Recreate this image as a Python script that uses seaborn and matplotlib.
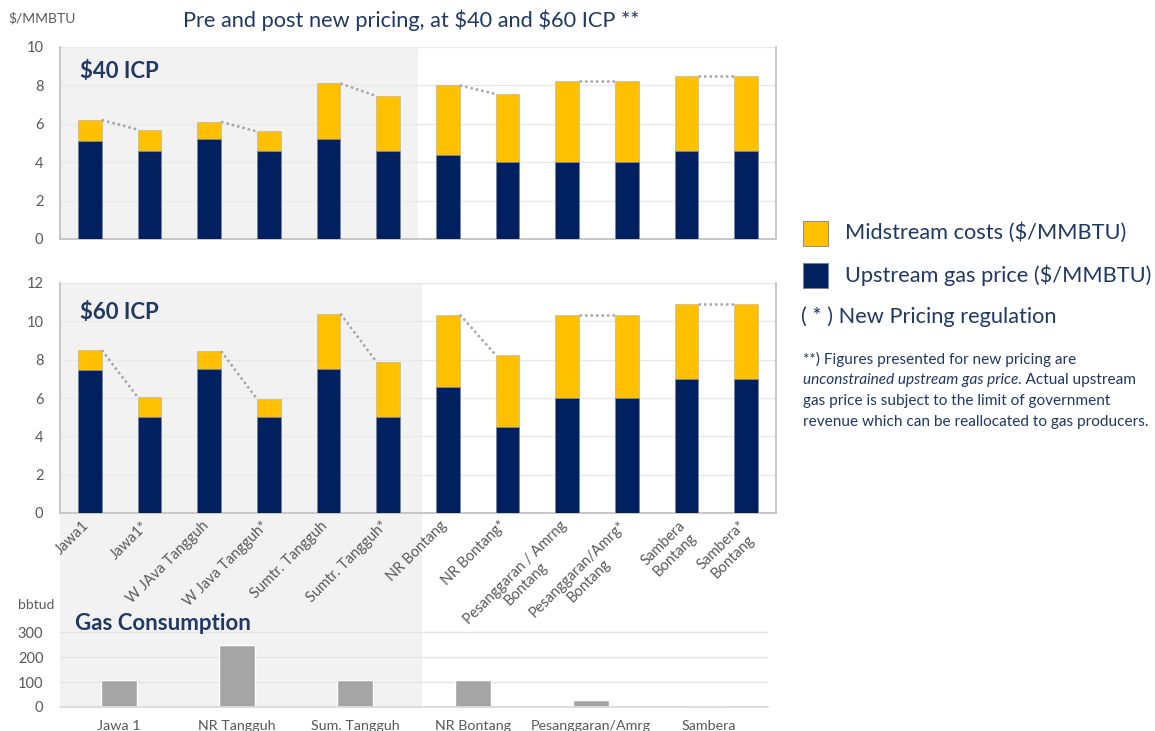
import matplotlib
matplotlib.use("Agg")
import matplotlib.pyplot as plt
import matplotlib.transforms as mtransforms
import seaborn as sns
import pandas as pd
from matplotlib.patches import Rectangle

# --- data ---
projects = ['Jawa1', 'Jawa1*', 'W JAva Tangguh', 'W Java Tangguh*',
            'Sumtr. Tangguh', 'Sumtr. Tangguh*', 'NR Bontang', 'NR Bontang*',
            'Pesanggaran / Amrng\nBontang', 'Pesanggaran/Amrg*\nBontang',
            'Sambera\nBontang', 'Sambera*\nBontang']
upstream_40 = [5.1, 4.6, 5.2, 4.6, 5.2, 4.6, 4.4, 4.0, 4.0, 4.0, 4.6, 4.6]
midstream_40 = [1.1, 1.1, 0.9, 1.0, 2.9, 2.85, 3.6, 3.55, 4.25, 4.25, 3.9, 3.9]
upstream_60 = [7.45, 5.0, 7.5, 5.0, 7.5, 5.0, 6.6, 4.5, 6.0, 6.0, 7.0, 7.0]
midstream_60 = [1.05, 1.05, 0.95, 0.95, 2.9, 2.9, 3.75, 3.75, 4.35, 4.35, 3.9, 3.9]

fields = ['Jawa 1', 'NR Tangguh', 'Sum. Tangguh', 'NR Bontang', 'Pesanggaran/Amrg', 'Sambera']
consumption = [110, 250, 110, 110, 30, 6]

YELLOW = '#FFC000'
NAVY = '#002060'
TXT = '#1F3864'
GREY_TXT = '#595959'
SHADE = '#F2F2F2'

sns.set_theme(style='white')
plt.rcParams['font.family'] = ['Lato', 'DejaVu Sans']
plt.rcParams['text.parse_math'] = False

W, H = 1155, 731
fig = plt.figure(figsize=(W / 100, H / 100), dpi=100)


def box(left, top, right, bottom):
    return [left / W, 1 - bottom / H, (right - left) / W, (bottom - top) / H]


# shaded block behind middle + bottom chart (spans the tick labels)
fig.patches.append(Rectangle((60 / W, 1 - 707 / H), (422 - 60) / W, (707 - 283) / H,
                             transform=fig.transFigure, facecolor=SHADE,
                             edgecolor='none', zorder=-5))


def price_panel(ax, up, mid, ymax, title, show_labels):
    df = pd.DataFrame({'project': projects, 'upstream': up,
                       'total': [u + m for u, m in zip(up, mid)]})
    ax.set_facecolor('none')
    ax.axvspan(-0.5, 5.5, color=SHADE, zorder=0, lw=0)
    sns.barplot(data=df, x='project', y='total', color=YELLOW, width=0.4,
                saturation=1, ax=ax, edgecolor='#B0B0B0', linewidth=0.4, zorder=2)
    sns.barplot(data=df, x='project', y='upstream', color=NAVY, width=0.4,
                saturation=1, ax=ax, edgecolor='#8090B0', linewidth=0.5, zorder=3)
    # dotted connectors between pre and post pricing bars
    for i in range(0, len(projects), 2):
        ax.plot([i + 0.2, i + 0.8], [df['total'][i], df['total'][i + 1]],
                ls=(0, (1, 1.2)), color='#A6A6A6', lw=1.8, zorder=4)
    ax.set_xlim(-0.5, len(projects) - 0.5)
    ax.set_ylim(0, ymax)
    ax.set_yticks(range(0, ymax + 1, 2))
    ax.yaxis.grid(True, color='#E8E8E8', lw=1)
    ax.set_axisbelow(True)
    ax.set_xlabel('')
    ax.set_ylabel('')
    ax.tick_params(axis='y', labelsize=10.5, colors=GREY_TXT, length=0, pad=12)
    ax.tick_params(axis='x', length=0)
    for s in ['left', 'bottom', 'right']:
        ax.spines[s].set_color('#BFBFBF')
        ax.spines[s].set_linewidth(1.2)
    ax.spines['top'].set_visible(False)
    if show_labels:
        ax.set_xticks(range(len(projects)))
        ax.set_xticklabels(projects, rotation=45, ha='right', rotation_mode='anchor',
                           fontsize=10.5, color=GREY_TXT, multialignment='center')
        ax.tick_params(axis='x', pad=4)
        shift = mtransforms.ScaledTranslation(-8 / 100, 0, fig.dpi_scale_trans)
        for lab in ax.get_xticklabels():
            lab.set_transform(lab.get_transform() + shift)
    else:
        ax.set_xticklabels([])
    ax.text(0.028, 0.87, title, transform=ax.transAxes, fontsize=16,
            fontweight='bold', color=TXT, va='center')


ax1 = fig.add_axes(box(60, 47, 776, 239))
price_panel(ax1, upstream_40, midstream_40, 10, '$40 ICP', False)

ax2 = fig.add_axes(box(60, 283, 776, 513))
price_panel(ax2, upstream_60, midstream_60, 12, '$60 ICP', True)

# gas consumption panel
ax3 = fig.add_axes(box(60, 620, 768, 707))
ax3.set_facecolor('none')
cons = pd.DataFrame({'field': fields, 'bbtud': consumption})
sns.barplot(data=cons, x='field', y='bbtud', color='#A5A5A5', width=0.31,
            saturation=1, ax=ax3, zorder=2)
ax3.set_ylim(0, 350)
ax3.set_yticks([0, 100, 200, 300])
ax3.yaxis.grid(True, color='#E3E3E3', lw=1)
ax3.set_axisbelow(True)
ax3.set_xlabel('')
ax3.set_ylabel('')
for s in ['left', 'top', 'right']:
    ax3.spines[s].set_visible(False)
ax3.spines['bottom'].set_color('#D9D9D9')
ax3.tick_params(axis='y', labelsize=10.5, colors=GREY_TXT, length=0, pad=12)
ax3.tick_params(axis='x', labelsize=10.3, colors=GREY_TXT, length=0, pad=9)
ax3.text(75 / W, 1 - 623 / H, 'Gas Consumption', transform=fig.transFigure,
         fontsize=16, fontweight='bold', color=TXT, va='center')

# titles / units
fig.text(411 / W, 1 - 20 / H, 'Pre and post new pricing, at $40 and $60 ICP **',
         ha='center', va='center', fontsize=15.7, color=TXT)
fig.text(8 / W, 1 - 18 / H, '$/MMBTU', fontsize=10, color=GREY_TXT, va='center')
fig.text(18 / W, 1 - 605 / H, 'bbtud', fontsize=10, color=GREY_TXT, va='center')

# legend block
fig.patches.append(Rectangle((803 / W, 1 - 246 / H), 25 / W, 25 / H, transform=fig.transFigure,
                             facecolor=YELLOW, edgecolor='#7F7F7F', lw=0.6))
fig.patches.append(Rectangle((803 / W, 1 - 288 / H), 25 / W, 25 / H, transform=fig.transFigure,
                             facecolor=NAVY, edgecolor='#7F7F7F', lw=0.6))
fig.text(845 / W, 1 - 233 / H, 'Midstream costs ($/MMBTU)', fontsize=15.7, color=TXT, va='center')
fig.text(845 / W, 1 - 275 / H, 'Upstream gas price ($/MMBTU)', fontsize=15.7, color=TXT, va='center')
fig.text(801 / W, 1 - 317 / H, '( * ) New Pricing regulation', fontsize=15.7, color=TXT, va='center')

NOTE_FS = 11.1
fig.text(803 / W, 1 - 359 / H, '**) Figures presented for new pricing are',
         fontsize=NOTE_FS, color=TXT, va='center')
it = fig.text(803 / W, 1 - 380 / H, 'unconstrained upstream gas price',
              fontsize=NOTE_FS, color=TXT, va='center', style='italic')
fig.canvas.draw()
bb = it.get_window_extent(renderer=fig.canvas.get_renderer())
fig.text(bb.x1 / W, 1 - 380 / H, '. Actual upstream', fontsize=NOTE_FS, color=TXT, va='center')
fig.text(803 / W, 1 - 401 / H, 'gas price is subject to the limit of government',
         fontsize=NOTE_FS, color=TXT, va='center')
fig.text(803 / W, 1 - 422 / H, 'revenue which can be reallocated to gas producers.',
         fontsize=NOTE_FS, color=TXT, va='center')

fig.savefig('out.png', dpi=100)
